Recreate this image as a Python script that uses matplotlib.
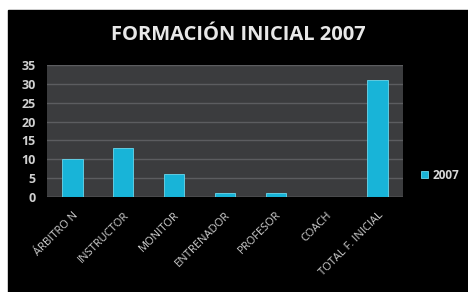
import matplotlib
matplotlib.use('Agg')
import matplotlib.pyplot as plt
from matplotlib.patches import Rectangle

categories = ['ÁRBITRO N', 'INSTRUCTOR', 'MONITOR', 'ENTRENADOR',
              'PROFESOR', 'COACH', 'TOTAL F. INICIAL']
values_2007 = [10, 13, 6, 1, 1, 0, 31]
y_ticks = [0, 5, 10, 15, 20, 25, 30, 35]

W, H = 468, 292
fig = plt.figure(figsize=(W / 100, H / 100), dpi=100, facecolor='white')
# black slide background with thin white margin top/left
fig.patches.append(Rectangle((8 / W, 0), 1 - 8 / W, 1 - 10 / H,
                             transform=fig.transFigure, color='black', zorder=-10))

ax = fig.add_axes([47 / W, 1 - 197 / H, (403 - 47) / W, (197 - 65) / H])
ax.set_facecolor('#3b3c3e')

x = range(len(categories))
ax.bar(x, values_2007, width=0.4, color='#18b4d8', edgecolor='#6ad8ee',
       linewidth=0.6, label='2007', zorder=3)

ax.set_ylim(0, 35)
ax.set_xlim(-0.5, len(categories) - 0.5)
ax.set_yticks(y_ticks)
ax.yaxis.grid(True, color='#5c5d60', linewidth=1.0, zorder=0)
ax.set_axisbelow(True)
for s in ax.spines.values():
    s.set_visible(False)
ax.axhline(0, color='#6a6b6e', linewidth=1.0, zorder=2)

ax.tick_params(axis='both', length=0, colors='#d0d0d0')
ax.set_yticklabels([str(t) for t in y_ticks], fontsize=9, fontweight='bold',
                   family='Open Sans', color='#d0d0d0')
ax.tick_params(axis='y', pad=8)
ax.set_xticks(list(x))
ax.set_xticklabels(categories, rotation=45, ha='right', rotation_mode='anchor',
                   fontsize=8, family='Open Sans', color='#d0d0d0')
ax.tick_params(axis='x', pad=9)

fig.text(238 / W, 1 - 35 / H, 'FORMACIÓN INICIAL 2007', ha='center', va='center',
         fontsize=14.5, fontweight='bold', family='Open Sans', color='#e8e8e8')

leg = ax.legend(loc='center left', bbox_to_anchor=(1.05, 0.165), frameon=False,
                handlelength=0.6, handleheight=0.6, handletextpad=0.4,
                borderaxespad=0, borderpad=0,
                prop={'family': 'Open Sans', 'weight': 'bold', 'size': 8.5})
for t in leg.get_texts():
    t.set_color('#d8d8d8')

fig.savefig('out.png', dpi=100, facecolor=fig.get_facecolor())
